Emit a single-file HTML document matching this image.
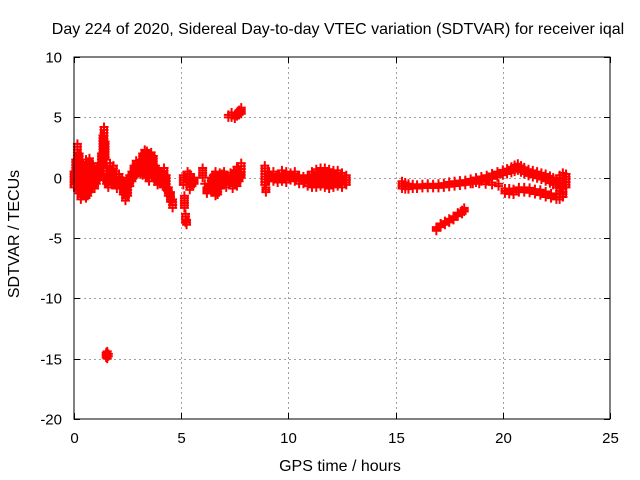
<!DOCTYPE html>
<html><head><meta charset="utf-8"><style>
body{margin:0;background:#fff;}
svg{display:block;font-family:"Liberation Sans",sans-serif;}
</style></head><body>
<svg id="chart" width="640" height="480">
<text x="338" y="34" text-anchor="middle" font-size="16">Day 224 of 2020, Sidereal Day-to-day VTEC variation (SDTVAR) for receiver iqal</text>
<text x="340" y="471" text-anchor="middle" font-size="16">GPS time / hours</text>
<text transform="translate(19,234) rotate(-90)" text-anchor="middle" font-size="16">SDTVAR / TECUs</text>
<g id="grid"></g>
<g id="ticks"></g>
<g id="marks"></g>
<rect x="74" y="57" width="536" height="362" fill="none" stroke="#000" stroke-width="1"/>
</svg>
<script>
const xTicks=[0,5,10,15,20,25];
const yTicks=[10,5,0,-5,-10,-15,-20];
const hours=[0.0,0.08,0.16,0.24,0.32,0.4,0.48,0.56,0.64,0.72,0.8,0.88,0.96,1.04,1.12,1.2,1.28,1.35,1.4,1.45,1.52,1.6,1.68,1.76,1.84,1.92,2.0,2.1,2.2,2.3,2.4,2.5,2.6,
1.5,1.55,1.6,
2.7,2.8,2.9,3.0,3.1,3.2,3.3,3.4,3.5,3.6,3.7,3.8,3.9,4.0,4.1,4.2,4.3,4.4,4.5,4.6,
5.1,5.15,5.2,5.25,5.3,5.4,5.5,5.6,6.0,6.1,6.2,6.3,6.4,6.5,6.6,6.7,6.8,6.9,7.0,7.1,7.3,7.4,7.5,7.6,7.7,7.8,
7.2,7.35,7.5,7.6,7.7,7.8,
8.9,8.95,9.1,9.3,9.5,9.7,9.9,10.1,10.3,10.5,10.7,10.9,11.1,11.3,11.5,11.7,11.9,12.1,12.3,12.5,12.7,
15.3,15.45,15.6,15.8,16.0,16.25,16.5,16.75,17.0,17.25,17.5,17.75,18.0,18.25,18.5,18.75,19.0,19.25,19.5,19.75,20.0,20.2,20.4,20.55,20.7,20.85,21.0,21.2,21.4,21.6,21.8,22.0,22.2,22.35,22.5,22.65,22.8,22.95,
18.6,18.9,19.2,19.5,19.8,
20.1,20.3,20.5,20.75,21.0,21.25,21.5,21.75,22.0,22.25,22.5,22.65,22.8,
16.9,17.1,17.3,17.5,17.7,17.9,18.1,18.2];
const upper=[0.5,1.5,2.8,2.0,1.0,0.2,1.0,1.5,1.3,1.6,1.2,1.0,0.6,0.2,0.8,1.2,2.0,3.5,4.2,3.0,1.0,0.2,1.2,0.6,1.0,0.0,-0.2,0.3,0.0,-0.6,-0.5,-0.3,0.2,
-14.5,-14.4,-14.6,
0.5,1.0,1.4,1.0,1.5,2.0,2.3,2.2,2.0,2.1,1.8,1.0,0.5,0.5,0.4,0.8,0.2,-0.8,-1.2,-1.8,
0.2,-1.5,-3.0,-3.5,0.5,0.3,-0.2,0.0,0.8,-0.5,-0.8,-0.5,0.0,0.2,0.5,-0.3,0.4,0.3,0.5,0.2,0.4,0.0,0.6,0.9,0.5,1.2,
5.2,5.4,5.2,5.4,5.6,5.8,
1.0,-0.8,0.5,0.5,0.3,0.6,0.5,0.4,0.5,0.2,0.1,0.2,0.5,0.7,0.8,0.8,0.7,0.6,0.6,0.4,0.2,
-0.3,-0.4,-0.5,-0.55,-0.6,-0.55,-0.5,-0.55,-0.5,-0.45,-0.35,-0.3,-0.25,-0.2,-0.1,0.0,0.1,0.2,0.35,0.5,0.65,0.75,0.9,1.05,1.15,1.0,0.85,0.7,0.6,0.5,0.4,0.3,0.15,0.0,-0.1,0.2,0.4,0.3,
-0.3,-0.3,-0.35,-0.4,-0.5,
-0.9,-0.9,-0.95,-0.8,-0.8,-0.85,-0.95,-1.0,-1.15,-1.3,-1.4,-1.4,-1.2,
-4.1,-3.8,-3.6,-3.4,-3.2,-2.9,-2.7,-2.5];
const lower=[-0.8,-0.5,-1.0,-1.3,-1.8,-1.5,-1.2,-1.7,-1.5,-1.2,-0.6,-0.3,-0.9,-0.5,-0.2,0.3,0.8,1.2,2.5,1.5,-0.5,-0.8,0.0,-0.6,-0.2,-0.6,-0.9,-0.4,-0.8,-1.4,-1.9,-1.5,-0.7,
-14.9,-15.0,-14.8,
-0.3,0.0,0.2,0.4,0.3,0.2,0.5,0.0,-0.3,0.3,0.0,-0.2,-0.6,-0.5,-0.3,-0.8,-1.0,-1.5,-2.0,-2.5,
-0.6,-2.5,-3.7,-3.9,-0.3,-1.0,-0.7,-0.5,0.0,-0.5,-1.3,-1.0,-1.2,-0.5,-1.5,-1.4,-0.9,-0.3,-0.6,-0.8,-0.4,-0.9,-0.5,-0.7,-0.3,0.0,
5.0,5.0,4.9,5.1,5.2,5.3,
-0.6,-1.2,-0.3,-0.3,-0.4,-0.3,-0.4,-0.2,-0.3,-0.5,-0.5,-0.7,-0.8,-0.8,-0.7,-0.8,-0.9,-0.8,-0.7,-0.8,-0.6,
-0.9,-0.95,-0.95,-0.9,-0.9,-0.85,-0.85,-0.85,-0.85,-0.8,-0.75,-0.7,-0.65,-0.6,-0.5,-0.4,-0.3,-0.2,-0.1,0.05,0.2,0.3,0.4,0.5,0.6,0.45,0.3,0.15,0.05,-0.05,-0.15,-0.3,-0.45,-0.6,-0.8,-1.3,-1.6,-0.8,
-0.5,-0.5,-0.55,-0.6,-0.7,
-1.3,-1.35,-1.4,-1.2,-1.2,-1.25,-1.35,-1.45,-1.6,-1.7,-1.8,-1.8,-1.6,
-4.4,-4.1,-3.9,-3.7,-3.5,-3.2,-3.0,-2.8];
const NS="http://www.w3.org/2000/svg";
const X0=74,X1=610,Y0=57,Y1=419;
function xs(t){return X0+(t-0)/(25-0)*(X1-X0);}
function ys(v){return Y1-(v-(-20))/(10-(-20))*(Y1-Y0);}
function mk(tag,attrs,parent){const e=document.createElementNS(NS,tag);for(const k in attrs)e.setAttribute(k,attrs[k]);parent.appendChild(e);return e;}
const grid=document.getElementById('grid'),ticks=document.getElementById('ticks'),marks=document.getElementById('marks');
xTicks.forEach(t=>{
  const x=Math.round(xs(t))+0.5;
  if(t>0&&t<25){const g=mk('line',{x1:x,x2:x,y1:Y0,y2:Y1,stroke:'#a0a0a0','stroke-dasharray':'2,3'},grid);
  
  }
  const a=mk('path',{d:`M${x},${Y1}v-6M${x},${Y0}v6`,stroke:'#000'},ticks);
  
  
  const l=mk('text',{x:x,y:Y1+24,'text-anchor':'middle','font-size':15},ticks);
  l.textContent=t;
  
  
});
yTicks.forEach(v=>{
  const y=Math.round(ys(v))+0.5;
  if(v>-20&&v<10){const g=mk('line',{x1:X0,x2:X1,y1:y,y2:y,stroke:'#a0a0a0','stroke-dasharray':'2,3'},grid);
  
  }
  const a=mk('path',{d:`M${X0},${y}h6M${X1},${y}h-6`,stroke:'#000'},ticks);
  
  
  const l=mk('text',{x:X0-12,y:y+5,'text-anchor':'end','font-size':15},ticks);
  l.textContent=v;
  
  
});
hours.forEach((t,i)=>{
  const x=xs(t),yh=ys(upper[i]),yl=ys(lower[i]);
  let d='';
  const n=Math.max(1,Math.ceil((yl-yh)/3));
  for(let k=0;k<=n;k++){const y=yh+(yl-yh)*k/n;d+=`M${x-4.5},${y}h9M${x},${y-4.5}v9`;}
  if(yl-yh>4){d+=`M${x-3},${yh+1}V${yl-1}M${x+3},${yh+1}V${yl-1}`;}
  const p=mk('path',{d:d,stroke:'#ff0000','stroke-width':2,fill:'none'},marks);
  
  
});
</script>
</body></html>
